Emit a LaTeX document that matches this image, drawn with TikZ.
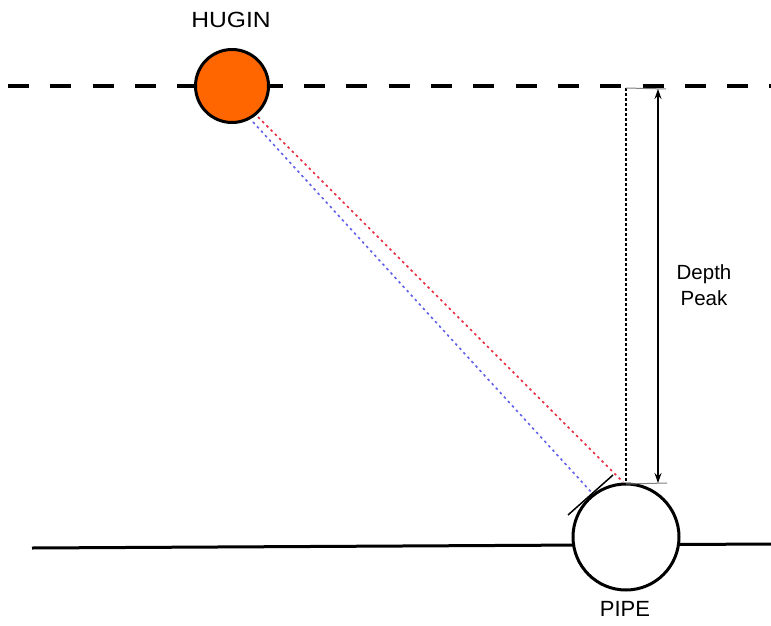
\documentclass[tikz,border=0pt]{standalone}
\usepackage{fontspec}
\setmainfont{Liberation Sans}
\usetikzlibrary{arrows.meta}
\definecolor{huginorange}{RGB}{255,102,0}
\definecolor{rayred}{RGB}{235,40,60}
\definecolor{rayblue}{RGB}{95,95,235}

\tikzset{
  body/.style={circle, draw=black, line width=3pt, inner sep=0pt},
  ray/.style={line width=1.6pt, dash pattern=on 2.5pt off 3.5pt},
  guide/.style={gray, line width=1pt},
  lbl/.style={font=\fontsize{22}{26}\selectfont}
}

\begin{document}
\begin{tikzpicture}[x=1pt,y=-1pt]
\useasboundingbox (0,0) rectangle (771,626);

\coordinate (sL) at (8,86);
\coordinate (sR) at (771,86);
\coordinate (bL) at (32,548);
\coordinate (bR) at (771,544);
\coordinate (top) at (626,88);
\coordinate (peak) at (626,484);
\coordinate (aT) at (658,89);
\coordinate (aB) at (658,483);
\coordinate (gT) at (666,89);
\coordinate (gB) at (667,483);
\coordinate (rA) at (258,117);
\coordinate (rB) at (623,482);
\coordinate (bA) at (253,122);
\coordinate (bB) at (592,493);
\coordinate (tA) at (568,515);
\coordinate (tB) at (613,475);

\draw[line width=4pt, dash pattern=on 21pt off 21.3pt] (sL) -- (sR) ; %sea surface
\draw[line width=3pt] (bL) -- (bR) ; %seabed

\node[body, fill=huginorange, minimum size=73pt] (hugin) at (232,86) {};
\node[body, fill=white, minimum size=106pt] (pipe) at (626,537) {};
\node[lbl] (hl) at (231,20) {\scalebox{1.12}[1]{HUGIN}};
\node[lbl] (pl) at (625,609) {PIPE};

\draw[ray, rayred] (rA) -- (rB) ;
\draw[ray, rayblue] (bA) -- (bB) ;
\draw[line width=1.5pt] (tA) -- (tB) ;

\draw[line width=1.6pt, dash pattern=on 2.5pt off 2.5pt] (top) -- (peak) ;
\draw[guide] (top) -- (gT) ;
\draw[guide] (peak) -- (gB) ;
\draw[line width=1.2pt, {Stealth[length=10pt,width=7pt]}-{Stealth[length=10pt,width=7pt]}] (aT) -- (aB) ;

\node[font=\fontsize{20.5}{26}\selectfont, align=center] (dp) at (704,285) {Depth\\Peak};

\end{tikzpicture}
\end{document}
